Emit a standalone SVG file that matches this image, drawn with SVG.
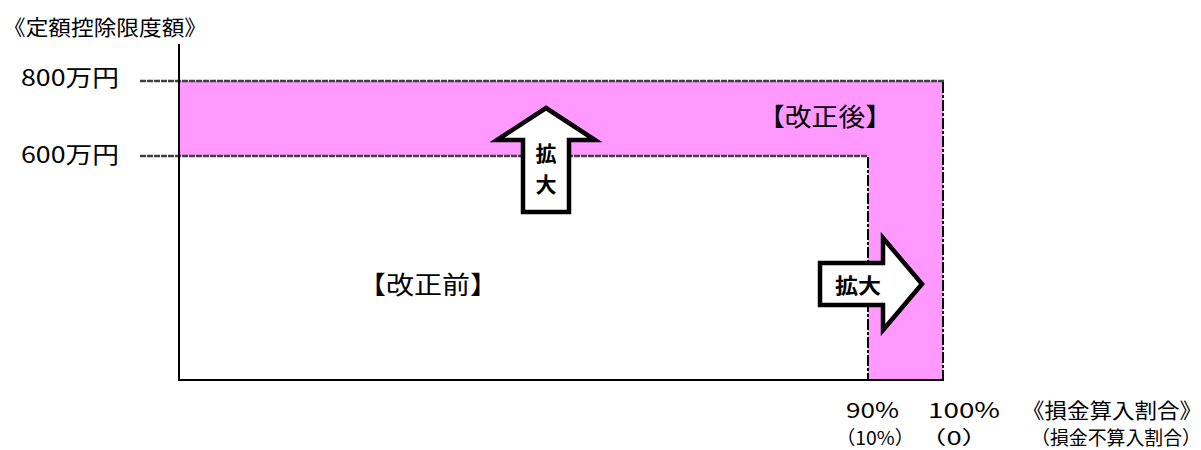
<svg xmlns="http://www.w3.org/2000/svg" width="1201" height="450" viewBox="0 0 1201 450">
<style>
.t{font-family:"Noto Sans CJK JP","Noto Sans",sans-serif;fill:#000}
.gl{stroke:#404040;stroke-width:2.6;fill:none;stroke-dasharray:6 1}
.dd{stroke:#000;stroke-width:2;fill:none;stroke-dasharray:11 2 3 2}
.ax{stroke:#000;stroke-width:2;fill:none}
.arr{fill:#fff;stroke:#000;stroke-width:4.5;stroke-linejoin:miter}
.b{font-weight:bold}
</style>
<rect width="1201" height="450" fill="#fff"/>
<g id="after-region">
<path d="M180,81 H943 V380 H868 V156 H180 Z" fill="#FF99FF"/>
</g>
<g id="connectors">
<line class="gl" x1="140" y1="81" x2="944" y2="81"/>
<line class="gl" x1="140" y1="156" x2="868" y2="156"/>
<line class="dd" x1="868" y1="157" x2="868" y2="380"/>
<line class="dd" x1="943" y1="82" x2="943" y2="380"/>
<line class="ax" x1="179" y1="44" x2="179" y2="381"/>
<line class="ax" x1="178" y1="380" x2="944" y2="380"/>
</g>
<g id="up-arrow">
<polygon class="arr" points="546,108 595,140 569,140 569,212 523,212 523,140 497,140"/>
<text class="t b" x="546" y="161" font-size="21" text-anchor="middle">拡</text>
<text class="t b" x="546" y="192" font-size="21" text-anchor="middle">大</text>
</g>
<g id="right-arrow">
<polygon class="arr" points="820,263 883,263 883,238 922,284 883,330 883,305 820,305"/>
<text class="t b" x="835" y="293" font-size="21" textLength="46" lengthAdjust="spacingAndGlyphs">拡大</text>
</g>
<g id="labels">
<text class="t" x="3" y="35" font-size="21" textLength="204" lengthAdjust="spacingAndGlyphs">《定額控除限度額》</text>
<text class="t" x="21" y="86" font-size="23" textLength="98" lengthAdjust="spacingAndGlyphs">800万円</text>
<text class="t" x="21" y="163" font-size="23" textLength="98" lengthAdjust="spacingAndGlyphs">600万円</text>
<text class="t" x="758" y="126" font-size="25" textLength="134" lengthAdjust="spacingAndGlyphs">【改正後】</text>
<text class="t" x="358" y="294" font-size="25" textLength="140" lengthAdjust="spacingAndGlyphs">【改正前】</text>
<text class="t" x="846" y="418" font-size="21" textLength="53" lengthAdjust="spacingAndGlyphs">90%</text>
<text class="t" x="928" y="418" font-size="21" textLength="72" lengthAdjust="spacingAndGlyphs">100%</text>
<text class="t" x="1022" y="418" font-size="21" textLength="180" lengthAdjust="spacingAndGlyphs">《損金算入割合》</text>
<text class="t" x="836" y="445" font-size="19" textLength="78" lengthAdjust="spacingAndGlyphs">（10%）</text>
<text class="t" x="919" y="445" font-size="19" textLength="70" lengthAdjust="spacingAndGlyphs">（0）</text>
<text class="t" x="1031" y="445" font-size="19" textLength="170" lengthAdjust="spacingAndGlyphs">（損金不算入割合）</text>
</g>
</svg>
